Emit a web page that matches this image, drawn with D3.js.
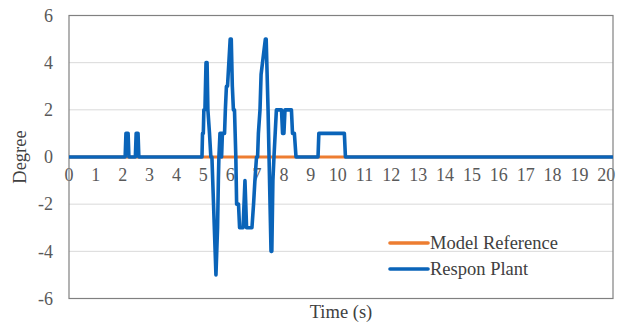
<!DOCTYPE html>
<html><head><meta charset="utf-8">
<script src="https://cdn.jsdelivr.net/npm/d3@7"></script>
<style>body{margin:0;background:#fff}</style>
</head><body>
<svg id="c" width="620" height="326"></svg>
<script>
// ---- data ----
const xTicks = d3.range(0, 21);          // 0..20 s
const yTicks = [-6, -4, -2, 0, 2, 4, 6];
const tMax = 20.25;
const refT = [0, 20.25];
const refV = [0, 0];
const plantT = [0, 2.09, 2.12, 2.20, 2.23, 2.47, 2.50, 2.57, 2.60,
  4.95, 4.97, 5.00, 5.02, 5.06, 5.10, 5.14, 5.17, 5.23, 5.28, 5.32, 5.47, 5.53, 5.56, 5.58,
  5.62, 5.66, 5.68, 5.71, 5.79, 5.82, 5.86, 5.90, 6.00, 6.04, 6.08, 6.12, 6.16, 6.21, 6.24,
  6.31, 6.35, 6.48, 6.55, 6.61, 6.81, 6.87, 6.92, 6.98, 7.02, 7.05, 7.11, 7.15, 7.31, 7.34,
  7.41, 7.52, 7.55, 7.59, 7.63, 7.72, 7.91, 7.95, 8.00, 8.04, 8.28, 8.32, 8.39, 8.45,
  9.27, 9.30, 10.25, 10.29, 20.25];
const plantV = [0, 0, 1, 1, 0, 0, 1, 1, 0,
  0, 1, 1, 2, 2, 4, 4, 2, 1, 0, 0, -5, -3, -1, 0,
  1, 1, 0, 1, 1, 2, 3, 3, 5, 5, 3, 2, 2, 0, -2,
  -2, -3, -3, -1, -3, -3, -2, -1, 0, 0, 1, 2, 3.5, 5, 5,
  2, -4, -4, -1, 0, 2, 2, 1, 1, 2, 2, 1, 1, 0,
  0, 1, 1, 0, 0];
const seriesNames = ["Model Reference", "Respon Plant"];
const colors = ["#ED7D31", "#0A64B9"];

// ---- layout ----
const svg = d3.select("#c");
const L = 69, R = 613, T = 15.5, B = 298.5;
const x = d3.scaleLinear().domain([0, tMax]).range([L, R]);
const y = d3.scaleLinear().domain([-6, 6]).range([B, T]);

// gridlines
svg.append("g").selectAll("line").data(yTicks.filter(v => v !== 0 && v !== 6 && v !== -6))
  .join("line").attr("x1", L).attr("x2", R)
  .attr("y1", d => y(d)).attr("y2", d => y(d))
  .attr("stroke", "#D9D9D9").attr("stroke-width", 1);

// y tick labels
svg.append("g").selectAll("text").data(yTicks).join("text")
  .attr("x", 53).attr("y", d => y(d)).attr("dy", "0.35em")
  .attr("text-anchor", "end").attr("font-family", "Liberation Serif")
  .attr("font-size", 18).attr("fill", "#595959").text(d => d);

// x tick labels (axis crosses at 0)
svg.append("g").selectAll("text").data(xTicks).join("text")
  .attr("x", d => x(d)).attr("y", y(0) + 24)
  .attr("text-anchor", "middle").attr("font-family", "Liberation Serif")
  .attr("font-size", 18).attr("fill", "#595959").text(d => d);

// zero axis line
svg.append("line").attr("x1", L).attr("x2", R).attr("y1", y(0)).attr("y2", y(0))
  .attr("stroke", "#BFBFBF");

// plot border
svg.append("rect").attr("x", L).attr("y", T).attr("width", R - L).attr("height", B - T)
  .attr("fill", "none").attr("stroke", "#808080").attr("stroke-width", 1.2);

const line = d3.line().x(d => x(d[0])).y(d => y(d[1]));
const refData = refT.map((t, i) => [t, refV[i]]);
const plantData = plantT.map((t, i) => [t, plantV[i]]);
svg.append("path").datum(refData).attr("d", line).attr("fill", "none")
  .attr("stroke", colors[0]).attr("stroke-width", 3.2);
svg.append("path").datum(plantData).attr("d", line).attr("fill", "none")
  .attr("stroke", colors[1]).attr("stroke-width", 3.6).attr("stroke-linejoin", "round");

// legend
const lg = svg.append("g");
seriesNames.forEach((n, i) => {
  const yy = 243 + i * 26;
  lg.append("line").attr("x1", 390).attr("x2", 428).attr("y1", yy).attr("y2", yy)
    .attr("stroke", colors[i]).attr("stroke-width", 3.6).attr("stroke-linecap", "round");
  lg.append("text").attr("x", 430).attr("y", yy).attr("dy", "0.33em")
    .attr("font-family", "Liberation Serif").attr("font-size", 18.5).attr("fill", "#404040").text(n);
});

// axis titles
svg.append("text").attr("x", 341).attr("y", 318).attr("text-anchor", "middle")
  .attr("font-family", "Liberation Serif").attr("font-size", 18.5).attr("fill", "#404040").text("Time (s)");
svg.append("text").attr("transform", "translate(26,157) rotate(-90)").attr("text-anchor", "middle")
  .attr("font-family", "Liberation Serif").attr("font-size", 18.5).attr("fill", "#404040").text("Degree");
</script>
</body></html>
